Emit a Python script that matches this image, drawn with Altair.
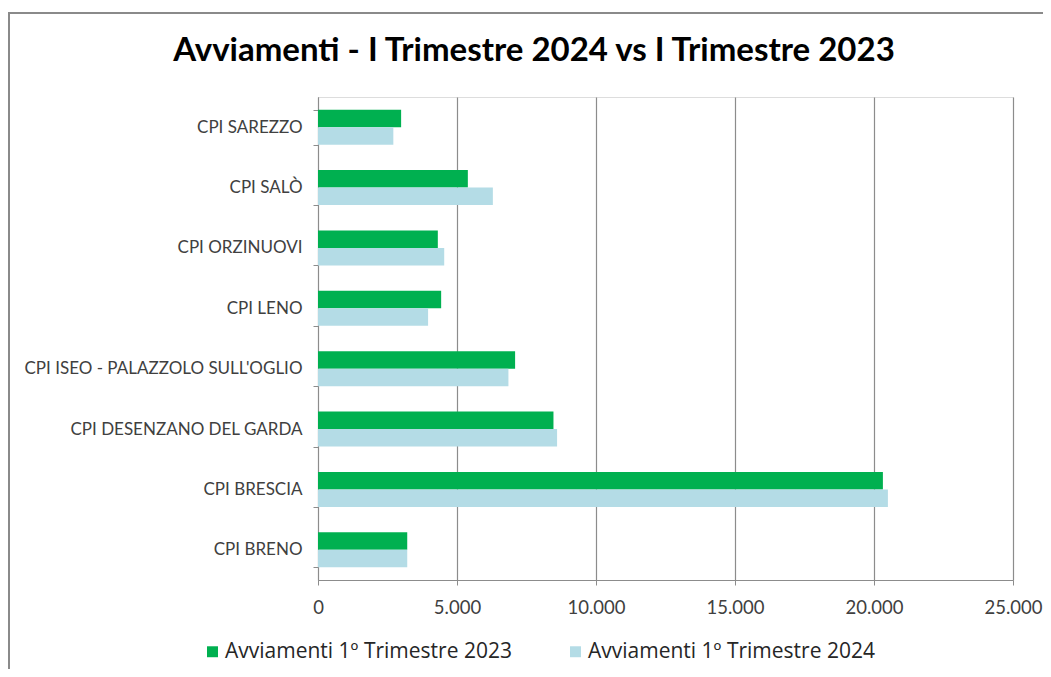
import altair as alt
import pandas as pd

titolo = "Avviamenti - I Trimestre 2024 vs I Trimestre 2023"
centri = [
    "CPI SAREZZO",
    "CPI SALÒ",
    "CPI ORZINUOVI",
    "CPI LENO",
    "CPI ISEO - PALAZZOLO SULL'OGLIO",
    "CPI DESENZANO DEL GARDA",
    "CPI BRESCIA",
    "CPI BRENO",
]
serie = ["Avviamenti 1º Trimestre 2023", "Avviamenti 1º Trimestre 2024"]
valori_2023 = [2990, 5390, 4310, 4430, 7090, 8470, 20320, 3210]
valori_2024 = [2710, 6290, 4540, 3960, 6850, 8600, 20500, 3210]
colori = ["#00B050", "#B4DCE6"]
x_ticks = [0, 5000, 10000, 15000, 20000, 25000]

rows = []
for c, v1, v2 in zip(centri, valori_2023, valori_2024):
    rows.append({"Centro": c, "Serie": serie[0], "Valore": v1})
    rows.append({"Centro": c, "Serie": serie[1], "Valore": v2})
df = pd.DataFrame(rows)

LABEL_FONT = "Lato"
LEGEND_FONT = "Open Sans"
GRID = "#8C8C8C"

bars = alt.Chart(df).mark_bar().encode(
    y=alt.Y(
        "Centro:N",
        sort=centri,
        scale=alt.Scale(paddingInner=0.42, paddingOuter=0.21),
        axis=alt.Axis(
            title=None,
            tickBand="extent",
            grid=False,
            domainColor=GRID,
            tickColor=GRID,
            tickSize=5,
            labelFont=LABEL_FONT,
            labelFontSize=17,
            labelColor="#404040",
            labelPadding=11,
            labelLimit=400,
        ),
    ),
    yOffset=alt.YOffset("Serie:N", sort=serie),
    x=alt.X(
        "Valore:Q",
        scale=alt.Scale(domain=[0, 25000], nice=False),
        axis=alt.Axis(
            title=None,
            values=x_ticks,
            grid=True,
            gridColor=GRID,
            gridWidth=1.2,
            domainColor=GRID,
            tickColor=GRID,
            tickSize=5,
            labelFont=LABEL_FONT,
            labelFontSize=18.5,
            labelColor="#404040",
            labelPadding=13,
            labelFlush=False,
            labelOverlap=False,
            labelExpr="replace(format(datum.value, ','), ',', '.')",
        ),
    ),
    color=alt.Color(
        "Serie:N",
        sort=serie,
        scale=alt.Scale(domain=serie, range=colori),
        legend=alt.Legend(
            title=None,
            orient="none",
            direction="horizontal",
            legendX=-116,
            legendY=544,
            symbolType="square",
            symbolSize=120,
            symbolStrokeWidth=0,
            labelFont=LEGEND_FONT,
            labelFontSize=21,
            labelColor="#262626",
            labelLimit=500,
            columnPadding=53,
            labelOffset=2,
        ),
    ),
)

aux_df = pd.DataFrame({"titolo": [titolo]})
border = alt.Chart(aux_df).mark_rect(
    fillOpacity=0, stroke="#8A8A8A", strokeWidth=2
).encode(
    x=alt.value(-309), x2=alt.value(760), y=alt.value(-84), y2=alt.value(640)
)
title = alt.Chart(aux_df).mark_text(
    font=LABEL_FONT,
    fontSize=33,
    fontWeight="bold",
    color="#000000",
    align="center",
    baseline="alphabetic",
).encode(text="titolo:N", x=alt.value(216), y=alt.value(-36))

chart = alt.layer(border, title, bars).properties(
    width=695,
    height=483,
    padding={"left": 310, "top": 89, "right": 30, "bottom": 89},
    autosize=alt.AutoSizeParams(type="none"),
).configure_view(stroke=None).configure(background="white")

chart.save("out.html", embed_options={"renderer": "svg", "actions": False})
